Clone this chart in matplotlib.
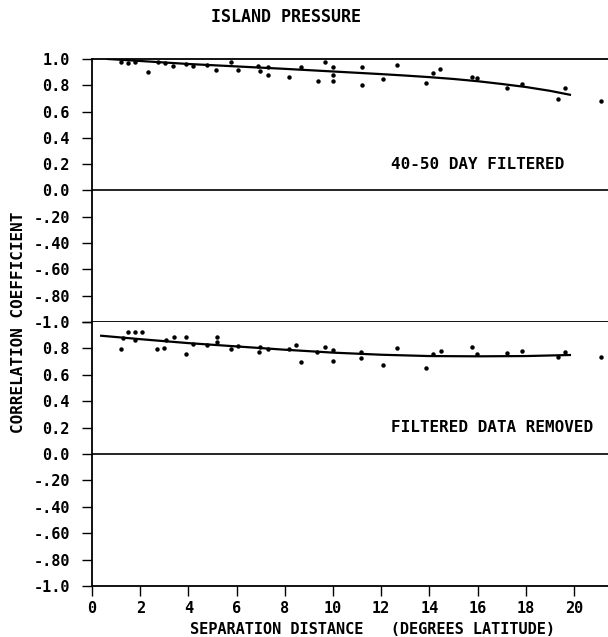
import matplotlib
matplotlib.use("Agg")
import matplotlib.pyplot as plt

plt.rcParams["font.family"] = ["DejaVu Sans Mono"]
plt.rcParams["font.weight"] = "bold"

# correlation vs separation, 40-50 day filtered series
dist_top = [1.20, 1.49, 1.78, 2.32, 2.74, 3.03, 3.36, 3.89, 4.19, 4.77, 5.15, 5.77,
            6.06, 6.89, 6.96, 7.30, 7.30, 8.16, 8.67, 9.38, 9.66, 10.0, 10.0, 10.0,
            11.19, 11.19, 12.06, 12.64, 13.86, 14.16, 14.44, 15.76, 15.96, 17.23,
            17.83, 19.32, 19.63, 21.12]
r_top = [0.977, 0.972, 0.977, 0.90, 0.977, 0.972, 0.95, 0.965, 0.95, 0.957, 0.92, 0.977,
         0.92, 0.95, 0.906, 0.94, 0.88, 0.863, 0.94, 0.83, 0.977, 0.94, 0.88, 0.83,
         0.94, 0.805, 0.846, 0.952, 0.82, 0.896, 0.926, 0.863, 0.855, 0.78,
         0.81, 0.696, 0.78, 0.678]
fit_top_x = [0.66, 4, 8, 10, 12, 13, 14, 15, 16, 17, 18, 19, 19.83]
fit_top_y = [1.0, 0.962, 0.925, 0.905, 0.885, 0.874, 0.862, 0.848, 0.831, 0.81, 0.787,
             0.758, 0.728]

# filtered data removed
dist_bot = [1.19, 1.29, 1.49, 1.80, 1.80, 2.09, 2.70, 2.99, 3.08, 3.40, 3.89, 3.89,
            4.19, 4.77, 5.19, 5.19, 5.78, 6.06, 6.92, 6.96, 7.30, 8.17, 8.48, 8.68,
            9.35, 9.66, 10.0, 10.0, 11.16, 11.16, 12.06, 12.67, 13.86, 14.16, 14.47,
            15.76, 15.96, 17.23, 17.83, 19.32, 19.63, 21.12]
r_bot = [0.795, 0.88, 0.926, 0.926, 0.863, 0.926, 0.795, 0.805, 0.863, 0.888, 0.888, 0.754,
         0.833, 0.825, 0.883, 0.845, 0.795, 0.82, 0.774, 0.812, 0.795, 0.795, 0.825, 0.698,
         0.774, 0.807, 0.787, 0.706, 0.774, 0.729, 0.678, 0.80, 0.653, 0.754, 0.78,
         0.812, 0.754, 0.762, 0.78, 0.736, 0.774, 0.732]
fit_bot_x = [0.38, 2, 4, 6, 8, 10, 12, 14, 16, 18, 19.83]
fit_bot_y = [0.896, 0.87, 0.84, 0.815, 0.79, 0.768, 0.752, 0.742, 0.74, 0.742, 0.75]

yticks = [1.0, 0.8, 0.6, 0.4, 0.2, 0.0, -0.2, -0.4, -0.6, -0.8, -1.0]
ylabels = ["1.0", "0.8", "0.6", "0.4", "0.2", "0.0", "-.20", "-.40", "-.60", "-.80", "-1.0"]
xticks = [0, 2, 4, 6, 8, 10, 12, 14, 16, 18, 20]

fig = plt.figure(figsize=(6.08, 6.37), dpi=100)
ax1 = fig.add_axes([0.1513, 0.4945, 0.8487, 0.4129])
ax2 = fig.add_axes([0.1513, 0.0801, 0.8487, 0.4144])

panels = [
    (ax1, dist_top, r_top, fit_top_x, fit_top_y, "40-50 DAY FILTERED"),
    (ax2, dist_bot, r_bot, fit_bot_x, fit_bot_y, "FILTERED DATA REMOVED"),
]
for ax, dx, ry, fx, fy, label in panels:
    ax.plot(dx, ry, "o", color="black", ms=3.2, mew=0)
    ax.plot(fx, fy, "-", color="black", lw=1.6)
    ax.axhline(0, color="black", lw=1.2)
    ax.set_xlim(0, 21.41)
    ax.set_ylim(-1, 1)
    ax.spines["right"].set_visible(False)
    for s in ax.spines.values():
        s.set_linewidth(1.3)
    ax.set_yticks(yticks)
    ax.tick_params(axis="y", direction="out", length=7, width=1, pad=9, labelsize=11)
    ax.text(12.4, 0.2, label, ha="left", va="center", fontsize=11.5)

ax1.set_yticklabels(ylabels)
ax1.tick_params(axis="x", bottom=False, labelbottom=False)
ax2.set_yticklabels([""] + ylabels[1:])
ax2.spines["top"].set_visible(False)
ax2.set_xticks(xticks)
ax2.set_xticklabels([str(t) for t in xticks])
ax2.tick_params(axis="x", direction="out", length=7, width=1, pad=4, labelsize=11)

fig.text(0.347, 0.973, "ISLAND PRESSURE", ha="left", va="center", fontsize=12)
fig.text(0.613, 0.011, "SEPARATION DISTANCE   (DEGREES LATITUDE)", ha="center",
         va="center", fontsize=11)
fig.text(0.031, 0.4945, "CORRELATION COEFFICIENT", ha="center", va="center",
         rotation=90, fontsize=11.5)

fig.savefig("out.png", dpi=100)
